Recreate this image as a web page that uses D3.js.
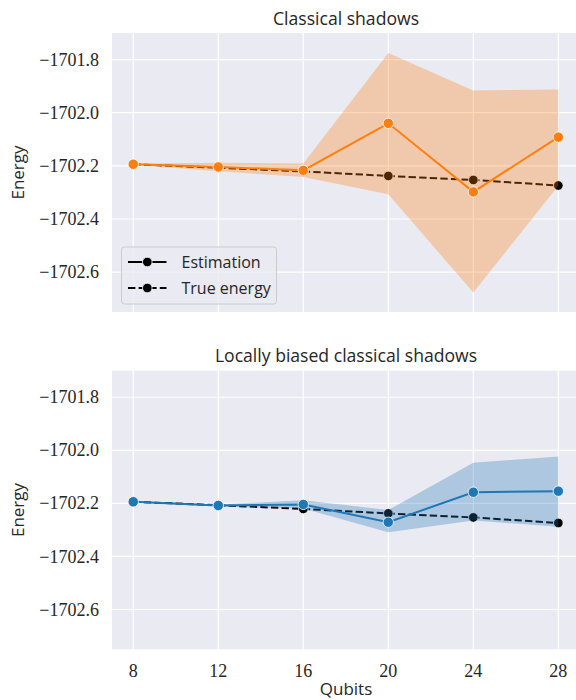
<!DOCTYPE html>
<html>
<head>
<meta charset="utf-8">
<script src="https://cdn.jsdelivr.net/npm/d3@7"></script>
<style>
  body { margin: 0; background: #fff; }
  svg { display: block; }
</style>
</head>
<body>
<div id="chart"></div>
<script>
// data
const qubits = [8, 12, 16, 20, 24, 28];
const trueEnergy = [-1702.194, -1702.207, -1702.221, -1702.238, -1702.253, -1702.274];

const csEstimate = [-1702.194, -1702.204, -1702.217, -1702.040, -1702.298, -1702.092];
const csLower = [-1702.197, -1702.220, -1702.242, -1702.307, -1702.677, -1702.275];
const csUpper = [-1702.191, -1702.188, -1702.191, -1701.775, -1701.916, -1701.913];

const lbcsEstimate = [-1702.194, -1702.208, -1702.204, -1702.271, -1702.158, -1702.154];
const lbcsLower = [-1702.197, -1702.212, -1702.219, -1702.309, -1702.265, -1702.288];
const lbcsUpper = [-1702.191, -1702.204, -1702.188, -1702.225, -1702.047, -1702.023];

const yTicks = [-1701.8, -1702.0, -1702.2, -1702.4, -1702.6];
const panelTitles = ["Classical shadows", "Locally biased classical shadows"];
const legendLabels = ["Estimation", "True energy"];

const width = 576;
const height = 700;

const svg = d3.select('#chart')
    .append('svg')
    .attr('width', width)
    .attr('height', height);

const sans = "'Open Sans', 'DejaVu Sans', sans-serif";
const serif = "'Liberation Serif', 'DejaVu Serif', serif";
const textColor = "#262626";
const dash = "7.4,3.2";

const x = d3.scaleLinear()
    .domain([7, 29])
    .range([112, 579.6]);

const panels = [
    { top: 33, bottom: 312, title: panelTitles[0], est: csEstimate, lo: csLower, hi: csUpper, color: "#ff7f0e", legend: true, xlabels: false },
    { top: 370.7, bottom: 649.3, title: panelTitles[1], est: lbcsEstimate, lo: lbcsLower, hi: lbcsUpper, color: "#1f77b4", legend: false, xlabels: true }
];

panels.forEach(p => {
    const y = d3.scaleLinear()
        .domain([-1702.75, -1701.70])
        .range([p.bottom, p.top]);

    const g = svg.append("g");

    // background
    g.append("rect")
        .attr("x", x.range()[0])
        .attr("y", p.top)
        .attr("width", x.range()[1] - x.range()[0])
        .attr("height", p.bottom - p.top)
        .attr("fill", "#eaeaf2");

    // grid
    g.append("g")
        .selectAll("line")
        .data(yTicks)
        .join("line")
        .attr("x1", x.range()[0])
        .attr("x2", x.range()[1])
        .attr("y1", d => y(d))
        .attr("y2", d => y(d))
        .attr("stroke", "#fff")
        .attr("stroke-width", 1.2);

    g.append("g")
        .selectAll("line")
        .data(qubits)
        .join("line")
        .attr("x1", d => x(d))
        .attr("x2", d => x(d))
        .attr("y1", p.top)
        .attr("y2", p.bottom)
        .attr("stroke", "#fff")
        .attr("stroke-width", 1.2);

    // y tick labels
    g.append("g")
        .selectAll("text")
        .data(yTicks)
        .join("text")
        .attr("x", 99)
        .attr("y", d => y(d))
        .attr("dy", "0.34em")
        .attr("text-anchor", "end")
        .attr("font-family", serif)
        .attr("font-size", 18)
        .attr("fill", textColor)
        .text(d => d3.format(".1f")(d));

    // y label
    g.append("text")
        .attr("transform", `translate(18,${(p.top + p.bottom) / 2}) rotate(-90)`)
        .attr("dy", "0.35em")
        .attr("text-anchor", "middle")
        .attr("font-family", sans)
        .attr("font-size", 17)
        .attr("fill", textColor)
        .text("Energy");

    // title
    g.append("text")
        .attr("x", 346)
        .attr("y", p.top - 8.5)
        .attr("text-anchor", "middle")
        .attr("font-family", sans)
        .attr("font-size", 17.6)
        .attr("fill", textColor)
        .text(p.title);

    // true energy line (drawn under the band)
    const trueData = qubits.map((q, i) => [q, trueEnergy[i]]);
    g.append("path")
        .datum(trueData)
        .attr("fill", "none")
        .attr("stroke", "#000")
        .attr("stroke-width", 2)
        .attr("stroke-dasharray", dash)
        .attr("d", d3.line().x(d => x(d[0])).y(d => y(d[1])));
    g.append("g")
        .selectAll("circle")
        .data(trueData)
        .join("circle")
        .attr("cx", d => x(d[0]))
        .attr("cy", d => y(d[1]))
        .attr("r", 4.8)
        .attr("fill", "#000")
        .attr("stroke", "#fff")
        .attr("stroke-width", 0.8);

    // confidence band
    const band = qubits.map((q, i) => [q, p.lo[i], p.hi[i]]);
    g.append("path")
        .datum(band)
        .attr("fill", p.color)
        .attr("fill-opacity", 0.3)
        .attr("d", d3.area().x(d => x(d[0])).y0(d => y(d[1])).y1(d => y(d[2])));

    // estimation line
    const estData = qubits.map((q, i) => [q, p.est[i]]);
    g.append("path")
        .datum(estData)
        .attr("fill", "none")
        .attr("stroke", p.color)
        .attr("stroke-width", 2)
        .attr("d", d3.line().x(d => x(d[0])).y(d => y(d[1])));
    g.append("g")
        .selectAll("circle")
        .data(estData)
        .join("circle")
        .attr("cx", d => x(d[0]))
        .attr("cy", d => y(d[1]))
        .attr("r", 5.2)
        .attr("fill", p.color)
        .attr("stroke", "#fff")
        .attr("stroke-width", 0.8);

    // x tick labels
    if (p.xlabels) {
        g.append("g")
            .selectAll("text")
            .data(qubits)
            .join("text")
            .attr("x", d => x(d))
            .attr("y", p.bottom + 22)
            .attr("dy", "0.34em")
            .attr("text-anchor", "middle")
            .attr("font-family", serif)
            .attr("font-size", 18)
            .attr("fill", textColor)
            .text(d => d);

        g.append("text")
            .attr("x", 346)
            .attr("y", 695)
            .attr("text-anchor", "middle")
            .attr("font-family", sans)
            .attr("font-size", 17)
            .attr("fill", textColor)
            .text("Qubits");
    }

    // legend
    if (p.legend) {
        const lg = g.append("g");
        lg.append("rect")
            .attr("x", 121.5)
            .attr("y", 247)
            .attr("width", 155)
            .attr("height", 57)
            .attr("rx", 3)
            .attr("fill", "#eaeaf2")
            .attr("fill-opacity", 0.8)
            .attr("stroke", "#cccccc")
            .attr("stroke-width", 1);

        const rows = lg.selectAll("g.row")
            .data(legendLabels)
            .join("g")
            .attr("class", "row")
            .attr("transform", (d, i) => `translate(0,${262 + i * 26})`);

        rows.append("line")
            .attr("x1", 128)
            .attr("x2", 166.5)
            .attr("stroke", "#000")
            .attr("stroke-width", 2)
            .attr("stroke-dasharray", (d, i) => i === 1 ? dash : null);
        rows.append("circle")
            .attr("cx", 147.3)
            .attr("r", 4.8)
            .attr("fill", "#000")
            .attr("stroke", "#fff")
            .attr("stroke-width", 0.8);
        rows.append("text")
            .attr("x", 181.5)
            .attr("dy", "0.35em")
            .attr("font-family", sans)
            .attr("font-size", 16)
            .attr("fill", textColor)
            .text(d => d);
    }
});
</script>
</body>
</html>
